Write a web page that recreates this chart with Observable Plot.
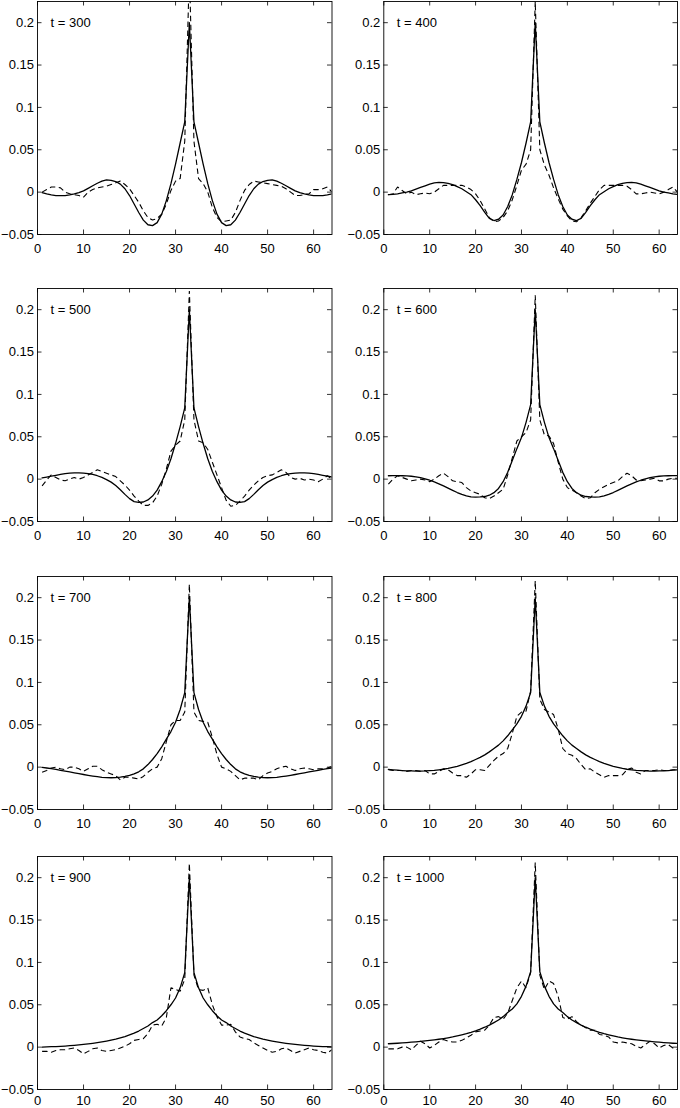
<!DOCTYPE html>
<html>
<head>
<meta charset="utf-8">
<script src="https://cdn.jsdelivr.net/npm/d3@7"></script>
<script src="https://cdn.jsdelivr.net/npm/@observablehq/plot@0.6"></script>
<style>
  html, body { margin: 0; padding: 0; background: #fff; overflow: hidden; }
  #figure { position: relative; width: 680px; height: 1108px; }
  #figure svg { position: absolute; }
</style>
</head>
<body>
<div id="figure"></div>
<script>
// grid points 1..64, peak at 33
const xs = d3.range(1, 65);
const xTicks = [0, 10, 20, 30, 40, 50, 60];
const yTicks = [-0.05, 0, 0.05, 0.1, 0.15, 0.2];
const labels = ["t = 300", "t = 400", "t = 500", "t = 600", "t = 700", "t = 800", "t = 900", "t = 1000"];

// solid curves
const solid300 = [-.0005, -.002, -.0032, -.004, -.0042, -.004, -.0032, -.002, -.0005, .0015, .0045, .0075, .0105, .013, .0145, .014, .0125, .0095, .004, -.004, -.014, -.024, -.033, -.0385, -.0395, -.036, -.026, -.01, .01, .033, .058, .083,
  .2,
  .083, .058, .033, .01, -.01, -.026, -.036, -.0395, -.0385, -.033, -.024, -.014, -.004, .004, .0095, .0125, .014, .0145, .013, .0105, .0075, .0045, .0015, -.0005, -.002, -.0032, -.004, -.0042, -.004, -.0032, -.002];
const solid400 = [-.003, -.0027, -.002, -.001, 0, .0015, .0035, .0055, .0075, .0095, .011, .0115, .0112, .0103, .0088, .0065, .004, .0005, -.003, -.009, -.016, -.024, -.031, -.0335, -.032, -.027, -.017, -.003, .015, .035, .058, .083,
  .2,
  .083, .058, .035, .015, -.003, -.017, -.027, -.032, -.0335, -.031, -.024, -.016, -.009, -.003, .0005, .004, .0065, .0088, .0103, .0112, .0115, .011, .0095, .0075, .0055, .0035, .0015, 0, -.001, -.002, -.0027];
const solid500 = [.0015, .0025, .0035, .0045, .0055, .0065, .0072, .0074, .0073, .007, .0065, .0055, .004, .002, -.0005, -.0035, -.0075, -.0125, -.018, -.023, -.0265, -.0275, -.027, -.0245, -.02, -.013, -.003, .009, .024, .042, .062, .084,
  .2,
  .084, .062, .042, .024, .009, -.003, -.013, -.02, -.0245, -.027, -.0275, -.0265, -.023, -.018, -.0125, -.0075, -.0035, -.0005, .002, .004, .0055, .0065, .007, .0073, .0074, .0072, .0065, .0055, .0045, .0035, .0025];
const solid600 = [.004, .0041, .0041, .004, .0038, .0034, .0027, .0017, .0003, -.0013, -.0033, -.0055, -.008, -.0107, -.0133, -.0158, -.018, -.0198, -.021, -.0212, -.021, -.0205, -.019, -.016, -.011, -.003, .008, .022, .036, .049, .067, .088,
  .2,
  .088, .067, .049, .036, .022, .008, -.003, -.011, -.016, -.019, -.0205, -.021, -.0212, -.021, -.0198, -.018, -.0158, -.0133, -.0107, -.008, -.0055, -.0033, -.0013, .0003, .0017, .0027, .0034, .0038, .004, .0041, .0041];
const solid700 = [-.0003, -.001, -.0018, -.0027, -.0037, -.0047, -.0057, -.0067, -.0077, -.0087, -.0096, -.0105, -.0113, -.012, -.0123, -.0125, -.0123, -.0118, -.011, -.0098, -.008, -.0055, -.002, .003, .009, .016, .024, .033, .042, .053, .068, .088,
  .2,
  .088, .068, .053, .042, .033, .024, .016, .009, .003, -.002, -.0055, -.008, -.0098, -.011, -.0118, -.0123, -.0125, -.0123, -.012, -.0113, -.0105, -.0096, -.0087, -.0077, -.0067, -.0057, -.0047, -.0037, -.0027, -.0018, -.001];
const solid800 = [-.0027, -.0032, -.0036, -.004, -.0043, -.0045, -.0046, -.0046, -.0045, -.0042, -.0038, -.0032, -.0025, -.0015, -.0003, .001, .0027, .0045, .0065, .009, .0115, .0145, .018, .022, .026, .031, .037, .044, .051, .06, .072, .088,
  .2,
  .088, .072, .06, .051, .044, .037, .031, .026, .022, .018, .0145, .0115, .009, .0065, .0045, .0027, .001, -.0003, -.0015, -.0025, -.0032, -.0038, -.0042, -.0045, -.0046, -.0046, -.0045, -.0043, -.004, -.0036, -.0032];
const solid900 = [0, .0002, .0005, .0007, .001, .0013, .0017, .0021, .0026, .0032, .0038, .0045, .0053, .0062, .0072, .0083, .0095, .011, .0125, .0145, .0165, .019, .022, .025, .029, .032, .037, .043, .05, .058, .07, .088,
  .2,
  .088, .07, .058, .05, .043, .037, .032, .029, .025, .022, .019, .0165, .0145, .0125, .011, .0095, .0083, .0072, .0062, .0053, .0045, .0038, .0032, .0026, .0021, .0017, .0013, .001, .0007, .0005, .0002];
const solid1000 = [.004, .0043, .0046, .005, .0054, .0058, .0063, .0068, .0073, .0079, .0086, .0093, .0101, .011, .012, .0132, .0145, .0159, .0175, .0193, .0213, .0235, .026, .029, .032, .036, .041, .045, .051, .06, .072, .089,
  .2,
  .089, .072, .06, .051, .045, .041, .036, .032, .029, .026, .0235, .0213, .0193, .0175, .0159, .0145, .0132, .012, .011, .0101, .0093, .0086, .0079, .0073, .0068, .0063, .0058, .0054, .005, .0046, .0043];

// dashed curves
const dashed300 = [0.0, 0.003, 0.006, 0.006, 0.005, 0.0, -0.002, -0.003, -0.004, -0.006,
  0.0, 0.003, 0.005, 0.006, 0.007, 0.009, 0.011, 0.013, 0.009, 0.004,
  -0.004, -0.012, -0.022, -0.03, -0.033, -0.031, -0.026, -0.014, 0.002, 0.013,
  0.016, 0.06, 0.26, 0.06, 0.016, 0.01, 0.0, -0.018, -0.03, -0.035,
  -0.034, -0.033, -0.024, -0.01, 0.002, 0.009, 0.013, 0.012, 0.011, 0.01,
  0.009, 0.008, 0.007, 0.004, 0.0, -0.004, -0.004, -0.003, -0.002, 0.003,
  0.003, 0.004, 0.006, 0.0];
const dashed400 = [-0.003, -0.002, 0.006, 0.002, -0.002, 0.0, -0.003, -0.002, -0.001, -0.002,
  0.0, 0.004, 0.008, 0.008, 0.008, 0.008, 0.008, 0.006, 0.003, -0.002,
  -0.01, -0.02, -0.03, -0.035, -0.034, -0.03, -0.022, -0.009, 0.008, 0.026,
  0.033, 0.05, 0.225, 0.05, 0.032, 0.02, 0.005, -0.008, -0.02, -0.028,
  -0.034, -0.035, -0.03, -0.022, -0.013, -0.005, 0.003, 0.008, 0.008, 0.008,
  0.008, 0.008, 0.007, 0.003, -0.002, -0.002, -0.001, 0.0, -0.001, -0.002,
  0.0, 0.003, 0.006, 0.0];
const dashed500 = [-0.008, -0.001, 0.005, 0.002, -0.001, -0.002, 0.0, 0.002, 0.0, 0.002,
  0.005, 0.008, 0.011, 0.009, 0.007, 0.005, 0.003, -0.002, -0.007, -0.013,
  -0.02, -0.026, -0.031, -0.031, -0.028, -0.02, -0.006, 0.012, 0.033, 0.04,
  0.045, 0.07, 0.222, 0.07, 0.045, 0.043, 0.035, 0.02, 0.005, -0.01,
  -0.025, -0.032, -0.031, -0.026, -0.02, -0.013, -0.007, -0.002, 0.002, 0.004,
  0.005, 0.008, 0.011, 0.008, 0.002, 0.0, 0.001, -0.001, 0.0, -0.001,
  -0.003, 0.0, 0.004, 0.0];
const dashed600 = [-0.006, 0.0, 0.004, 0.002, 0.0, -0.002, -0.001, 0.0, -0.001, -0.003,
  0.0, 0.004, 0.007, 0.003, -0.002, -0.003, -0.004, -0.01, -0.014, -0.016,
  -0.018, -0.022, -0.023, -0.02, -0.016, -0.012, 0.005, 0.025, 0.045, 0.05,
  0.055, 0.07, 0.217, 0.07, 0.052, 0.051, 0.042, 0.02, 0.0, -0.01,
  -0.013, -0.016, -0.02, -0.023, -0.022, -0.016, -0.012, -0.009, -0.006, -0.004,
  -0.002, 0.003, 0.007, 0.004, -0.001, -0.002, -0.001, 0.0, 0.001, -0.002,
  -0.002, 0.0, 0.001, 0.001];
const dashed700 = [-0.006, -0.004, -0.001, 0.0, -0.002, -0.003, 0.0, 0.0, -0.002, -0.005,
  -0.002, 0.001, 0.001, -0.003, -0.006, -0.008, -0.01, -0.015, -0.012, -0.012,
  -0.013, -0.014, -0.011, -0.006, -0.002, 0.0, 0.01, 0.03, 0.05, 0.055,
  0.055, 0.065, 0.216, 0.065, 0.055, 0.054, 0.053, 0.035, 0.015, 0.0,
  -0.002, -0.005, -0.01, -0.015, -0.013, -0.013, -0.013, -0.015, -0.01, -0.007,
  -0.005, -0.002, 0.0, 0.001, -0.002, -0.004, -0.002, -0.001, -0.002, -0.003,
  -0.002, -0.002, -0.001, 0.001];
const dashed800 = [-0.003, -0.004, -0.004, -0.004, -0.005, -0.004, -0.004, -0.005, -0.004, -0.008,
  -0.008, -0.005, -0.002, -0.003, -0.007, -0.01, -0.01, -0.012, -0.008, -0.003,
  -0.003, -0.004, 0.002, 0.008, 0.013, 0.016, 0.022, 0.04, 0.06, 0.065,
  0.066, 0.09, 0.22, 0.08, 0.068, 0.065, 0.062, 0.045, 0.022, 0.016,
  0.014, 0.01, 0.003, -0.003, -0.002, -0.006, -0.009, -0.012, -0.01, -0.01,
  -0.01, -0.009, -0.003, -0.001, -0.006, -0.008, -0.004, -0.004, -0.004, -0.003,
  -0.004, -0.004, -0.003, -0.003];
const dashed900 = [-0.005, -0.005, -0.006, -0.004, -0.003, -0.003, -0.002, -0.001, -0.004, -0.008,
  -0.005, -0.002, -0.001, -0.004, -0.005, -0.004, -0.003, -0.001, 0.001, 0.004,
  0.008, 0.009, 0.01, 0.016, 0.026, 0.027, 0.025, 0.035, 0.07, 0.068,
  0.066, 0.08, 0.217, 0.085, 0.068, 0.067, 0.07, 0.05, 0.036, 0.026,
  0.026, 0.027, 0.018, 0.012, 0.01, 0.009, 0.005, 0.002, -0.001, -0.004,
  -0.006, -0.005, -0.002, -0.001, -0.004, -0.007, -0.005, -0.003, -0.001, -0.003,
  -0.004, -0.006, -0.007, -0.003];
const dashed1000 = [-0.002, -0.002, -0.002, 0.0, 0.0, -0.003, 0.002, 0.007, 0.004, -0.001,
  0.002, 0.006, 0.009, 0.007, 0.006, 0.006, 0.008, 0.011, 0.014, 0.018,
  0.019, 0.02, 0.026, 0.035, 0.036, 0.033, 0.04, 0.055, 0.07, 0.078,
  0.07, 0.088, 0.218, 0.085, 0.068, 0.078, 0.075, 0.06, 0.035, 0.033,
  0.036, 0.03, 0.026, 0.023, 0.02, 0.02, 0.015, 0.014, 0.012, 0.006,
  0.005, 0.006, 0.005, 0.004, 0.001, -0.001, 0.003, 0.007, 0.004, -0.001,
  0.002, 0.003, -0.001, -0.003];

const panels = [
  {label: labels[0], solid: solid300, dashed: dashed300},
  {label: labels[1], solid: solid400, dashed: dashed400},
  {label: labels[2], solid: solid500, dashed: dashed500},
  {label: labels[3], solid: solid600, dashed: dashed600},
  {label: labels[4], solid: solid700, dashed: dashed700},
  {label: labels[5], solid: solid800, dashed: dashed800},
  {label: labels[6], solid: solid900, dashed: dashed900},
  {label: labels[7], solid: solid1000, dashed: dashed1000}
];

// frame placement on the page
const rowTops = [1, 287.5, 575.5, 855.5];
const rowPad = [9, 9, 9, 6.5];   // last row: keep labels inside the page
const frameH = 233;
const cols = [
  {left: 0, marginLeft: 37, frameW: 294.5},
  {left: 340, marginLeft: 43.3, frameW: 293.7}
];
const tickLen = 4.5;
const fmt = d => d === 0 ? "0" : d < 0 ? "\u2212" + String(-d) : String(d);

const fig = document.getElementById("figure");

panels.forEach((p, i) => {
  const row = Math.floor(i / 2), c = cols[i % 2];
  const mTop = 1, mBottom = 24;
  const chart = Plot.plot({
    width: 340,
    height: mTop + frameH + mBottom,
    marginTop: mTop,
    marginBottom: mBottom,
    marginLeft: c.marginLeft,
    marginRight: 340 - c.marginLeft - c.frameW,
    x: {domain: [0, 64]},
    y: {domain: [-0.05, 0.225]},
    style: {fontFamily: "'Liberation Sans', Arial, Helvetica, sans-serif", fontSize: "13px", background: "transparent", color: "#000"},
    marks: [
      Plot.lineY(p.solid, {x: xs, stroke: "#000", strokeWidth: 1.3, clip: true}),
      Plot.lineY(p.dashed, {x: xs, stroke: "#000", strokeWidth: 1.1, strokeDasharray: "5.5,3.5", strokeLinecap: "butt", strokeLinejoin: "miter", clip: true}),
      // inward ticks on all four sides
      Plot.tickX(xTicks, {insetTop: frameH - tickLen, stroke: "#000", strokeWidth: 0.8}),
      Plot.tickX(xTicks, {insetBottom: frameH - tickLen, stroke: "#000", strokeWidth: 0.8}),
      Plot.tickY(yTicks, {insetRight: c.frameW - tickLen, stroke: "#000", strokeWidth: 0.8}),
      Plot.tickY(yTicks, {insetLeft: c.frameW - tickLen, stroke: "#000", strokeWidth: 0.8}),
      Plot.frame({stroke: "#000", strokeWidth: 0.9}),
      Plot.axisX(xTicks, {tickSize: 0, tickPadding: rowPad[row]}),
      Plot.axisY(yTicks, {tickSize: 0, tickPadding: 3.5, tickFormat: fmt}),
      Plot.text([p.label], {text: d => d, frameAnchor: "top-left", dx: 13, dy: 21.5, lineAnchor: "middle", textAnchor: "start", fill: "#000"})
    ]
  });
  chart.style.left = c.left + "px";
  chart.style.top = (rowTops[row] - mTop) + "px";
  fig.append(chart);
});
</script>
</body>
</html>
